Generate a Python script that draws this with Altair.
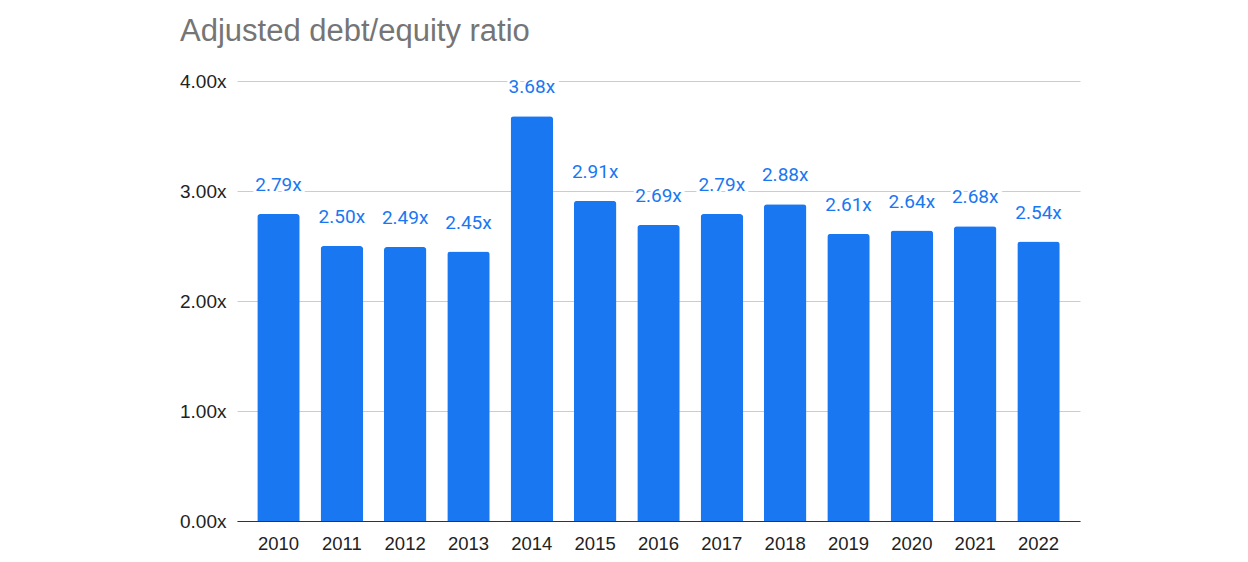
import altair as alt
import pandas as pd

years = ["2010", "2011", "2012", "2013", "2014", "2015", "2016", "2017", "2018", "2019", "2020", "2021", "2022"]
ratios = [2.79, 2.50, 2.49, 2.45, 3.68, 2.91, 2.69, 2.79, 2.88, 2.61, 2.64, 2.68, 2.54]
y_ticks = [0, 1, 2, 3, 4]

df = pd.DataFrame({"year": years, "ratio": ratios})
df["label"] = [f"{v:.2f}x" for v in ratios]

BLUE = "#1a77f2"

x = alt.X("year:N", sort=years, title=None,
          scale=alt.Scale(paddingInner=0.33, paddingOuter=0.32),
          axis=alt.Axis(labelAngle=0, labelFont="Liberation Sans", labelFontSize=18.5,
                        labelColor="#222222", labelPadding=13, ticks=False,
                        domainColor="#333333", domainWidth=1.2, grid=False))
y = alt.Y("ratio:Q", title=None,
          scale=alt.Scale(domain=[0, 4], nice=False),
          axis=alt.Axis(values=y_ticks, labelExpr="format(datum.value, '.2f') + 'x'",
                        labelFont="Liberation Sans", labelFontSize=19, labelColor="#222222",
                        labelPadding=11, ticks=False, domain=False,
                        gridColor="#cccccc", gridWidth=1))

base = alt.Chart(df)

bars = base.mark_bar(color=BLUE, cornerRadiusTopLeft=3, cornerRadiusTopRight=3).encode(x=x, y=y)

halo = base.mark_text(font="Roboto", fontSize=19, baseline="alphabetic", dy=-23,
                      stroke="white", strokeWidth=5, color="white").encode(
    x=alt.X("year:N", sort=years), y="ratio:Q", text="label:N")
labels = base.mark_text(font="Roboto", fontSize=19, baseline="alphabetic", dy=-23,
                        color=BLUE).encode(
    x=alt.X("year:N", sort=years), y="ratio:Q", text="label:N")

chart = alt.layer(bars, halo, labels).properties(
    width=843, height=440,
    title=alt.TitleParams("Adjusted debt/equity ratio", anchor="start", font="Liberation Sans",
                          fontSize=31, fontWeight="normal", color="#757575",
                          frame="group", dx=-57, offset=24),
    autosize=alt.AutoSizeParams(type="none"),
    padding={"left": 229, "top": 73, "right": 160, "bottom": 33},
).configure_view(stroke=None)

chart.save("out.html", embed_options={"renderer": "svg", "actions": False})
